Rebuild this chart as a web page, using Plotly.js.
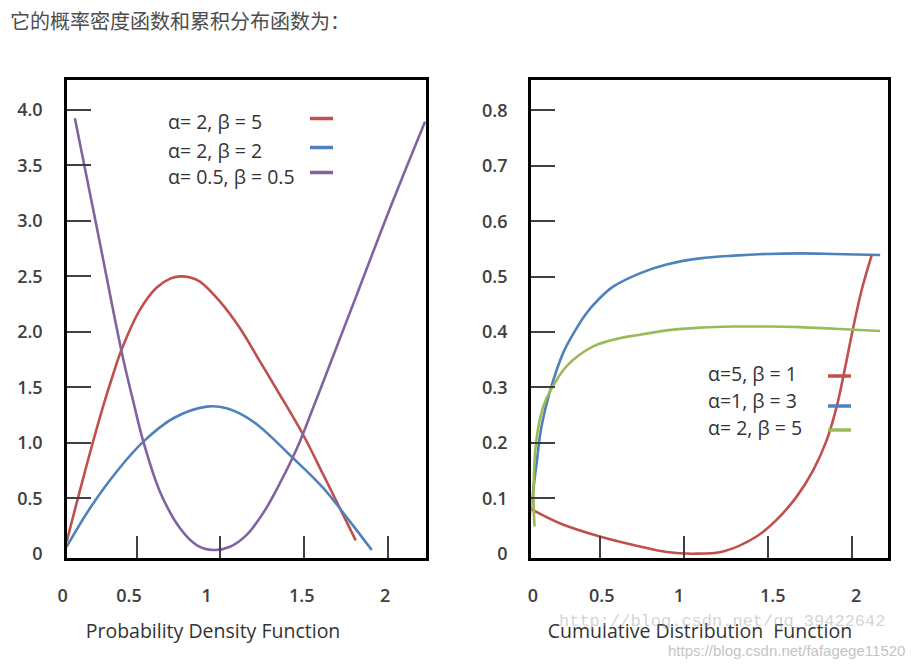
<!DOCTYPE html>
<html><head><meta charset="utf-8">
<script src="https://cdn.plot.ly/plotly-3.0.1.min.js"></script>
<style>html,body{margin:0;padding:0;background:#fff}#chart{width:917px;height:666px}</style>
</head><body><div id="chart"></div>
<script>
// ---------- data ----------
const headerText = "它的概率密度函数和累积分布函数为：";
const pdfTitle = "Probability Density Function";
const cdfTitle = "Cumulative Distribution  Function";

const pdfNames = ["α= 2, β = 5", "α= 2, β = 2", "α= 0.5, β = 0.5"];
const pdfRedX = [0.082, 0.141, 0.221, 0.300, 0.360, 0.410, 0.520, 0.620, 0.700, 0.759, 0.820, 0.878, 0.998, 1.117, 1.237, 1.356, 1.495, 1.615, 1.714, 1.808];
const pdfRedY = [0.108, 0.454, 0.908, 1.330, 1.620, 1.840, 2.200, 2.400, 2.480, 2.500, 2.490, 2.453, 2.272, 2.032, 1.731, 1.431, 1.070, 0.710, 0.409, 0.120];
const pdfBlueX = [0.082, 0.221, 0.380, 0.540, 0.719, 0.918, 1.037, 1.197, 1.435, 1.615, 1.774, 1.904];
const pdfBlueY = [0.063, 0.409, 0.739, 1.010, 1.221, 1.326, 1.311, 1.190, 0.860, 0.590, 0.289, 0.033];
const pdfPurpleX = [0.131, 0.271, 0.410, 0.480, 0.540, 0.639, 0.759, 0.858, 0.958, 1.057, 1.157, 1.257, 1.357, 1.457, 1.555, 1.655, 1.814, 2.013, 2.222];
const pdfPurpleY = [3.926, 2.874, 1.821, 1.371, 1.010, 0.559, 0.229, 0.078, 0.033, 0.063, 0.170, 0.370, 0.640, 0.950, 1.320, 1.710, 2.333, 3.115, 3.895];

const cdfNames = ["α=5, β = 1", "α=1, β = 3", "α= 2, β = 5"];
const cdfRedX = [0.064, 0.262, 0.501, 0.739, 0.898, 1.057, 1.235, 1.434, 1.553, 1.673, 1.772, 1.852, 1.911, 1.951, 2.007, 2.060, 2.120];
const cdfRedY = [0.085, 0.055, 0.031, 0.013, 0.003, 0.000, 0.004, 0.031, 0.061, 0.103, 0.151, 0.205, 0.265, 0.320, 0.404, 0.476, 0.539];
const cdfBlueX = [0.079, 0.103, 0.123, 0.153, 0.203, 0.282, 0.345, 0.421, 0.500, 0.580, 0.739, 0.898, 1.097, 1.300, 1.494, 1.700, 1.891, 2.170];
const cdfBlueY = [0.055, 0.112, 0.160, 0.229, 0.292, 0.362, 0.398, 0.434, 0.461, 0.482, 0.506, 0.522, 0.533, 0.538, 0.541, 0.542, 0.541, 0.539];
const cdfGreenX = [0.112, 0.106, 0.123, 0.163, 0.203, 0.302, 0.461, 0.620, 0.739, 0.898, 1.100, 1.295, 1.500, 1.692, 1.900, 2.170];
const cdfGreenY = [0.049, 0.115, 0.205, 0.265, 0.292, 0.338, 0.374, 0.389, 0.395, 0.403, 0.408, 0.410, 0.410, 0.409, 0.406, 0.402];

const xTickText = ["0", "0.5", "1", "1.5", "2"];
const xLabelPosPdf = [0.058, 0.454, 0.918, 1.486, 1.983];
const xLabelPosCdf = [0.101, 0.511, 0.971, 1.530, 2.027];
const xTickMarks = [0.5, 1, 1.5, 2];
const yTickMarksPdf = [0.5, 1, 1.5, 2, 2.5, 3, 3.5, 4];
const yLabelValsPdf = [0, 0.5, 1, 1.5, 2, 2.5, 3, 3.5, 4];
const yTickTextPdf = ["0", "0.5", "1.0", "1.5", "2.0", "2.5", "3.0", "3.5", "4.0"];
const yTickMarksCdf = [0.1, 0.2, 0.3, 0.4, 0.5, 0.6, 0.7, 0.8];
const yLabelValsCdf = [0, 0.1, 0.2, 0.3, 0.4, 0.5, 0.6, 0.7, 0.8];
const yTickTextCdf = ["0", "0.1", "0.2", "0.3", "0.4", "0.5", "0.6", "0.7", "0.8"];

const watermark1 = "http://blog.csdn.net/qq_39422642";
const watermark2 = "https://blog.csdn.net/fafagege11520";

// ---------- styles ----------
const RED = "#c0504d", BLUE = "#4f81bd", PURPLE = "#8064a2", GREEN = "#9bbb59";
const pdfColors = [RED, BLUE, PURPLE];
const cdfColors = [RED, BLUE, GREEN];
const tickFont = {family: "Open Sans, sans-serif", size: 18, color: "#404040", weight: 600};
const titleFont = {family: "Open Sans, sans-serif", size: 19.5, color: "#333333"};
const legFont = {family: "Open Sans, sans-serif", size: 19.5, color: "#333333"};

function line(x, y, color, xa, ya) {
  return {type: "scatter", mode: "lines", x: x, y: y, xaxis: xa, yaxis: ya,
    line: {color: color, width: 2.6, shape: "spline", smoothing: 1.0},
    showlegend: false, hoverinfo: "skip"};
}
function holder(xa, ya) {
  return {type: "scatter", mode: "lines", x: [null], y: [null], xaxis: xa, yaxis: ya,
    showlegend: false, hoverinfo: "skip"};
}

const traces = [
  line(pdfRedX, pdfRedY, pdfColors[0], "x", "y"),
  line(pdfBlueX, pdfBlueY, pdfColors[1], "x", "y"),
  line(pdfPurpleX, pdfPurpleY, pdfColors[2], "x", "y"),
  line(cdfRedX, cdfRedY, cdfColors[0], "x2", "y2"),
  line(cdfBlueX, cdfBlueY, cdfColors[1], "x2", "y2"),
  line(cdfGreenX, cdfGreenY, cdfColors[2], "x2", "y2"),
  holder("x3", "y"), holder("x", "y3"), holder("x4", "y2"), holder("x2", "y4")
];

const yDom = [0.1622, 0.8799];
function boxAxis(extra) {
  return Object.assign({showline: true, mirror: true, linewidth: 3, linecolor: "#000",
    showgrid: false, zeroline: false, ticks: "inside", tickwidth: 2, tickcolor: "#404040",
    tickmode: "array", showticklabels: false, automargin: false, fixedrange: true}, extra);
}
function labelAxis(extra) {
  return Object.assign({showline: false, showgrid: false, zeroline: false, ticks: "",
    tickmode: "array", showticklabels: true, tickfont: tickFont, automargin: false, fixedrange: true}, extra);
}

const layout = {
  width: 917, height: 666,
  margin: {l: 0, r: 0, t: 0, b: 0},
  paper_bgcolor: "#fff", plot_bgcolor: "rgba(0,0,0,0)",
  showlegend: false,
  title: {text: headerText, x: 10/917, xanchor: "left", xref: "paper", y: 1 - 22/666, yanchor: "middle", yref: "paper",
    font: {family: "Noto Sans CJK SC, sans-serif", size: 20, color: "#4d4d4d"}},
  // left panel
  xaxis: boxAxis({domain: [0.0727, 0.4646], range: [0.082, 2.228], anchor: "y", tickvals: xTickMarks, ticklen: 22}),
  yaxis: boxAxis({domain: yDom, range: [-0.0388, 4.271], anchor: "x", tickvals: yTickMarksPdf, ticklen: 24}),
  xaxis3: labelAxis({domain: [0, 0.4646], range: [-0.3166, 2.228], anchor: "y", tickvals: xLabelPosPdf, ticktext: xTickText,
    ticklabelstandoff: 25, title: {text: pdfTitle, font: titleFont, standoff: 18}}),
  yaxis3: labelAxis({overlaying: "y", range: [-0.0388, 4.271], anchor: "x", side: "left", tickvals: yLabelValsPdf, ticktext: yTickTextPdf,
    ticklabelstandoff: 23}),
  // right panel
  xaxis2: boxAxis({domain: [0.5796, 0.9684], range: [0.094, 2.217], anchor: "y2", tickvals: xTickMarks, ticklen: 22}),
  yaxis2: boxAxis({domain: yDom, range: [-0.00776, 0.855], anchor: "x2", tickvals: yTickMarksCdf, ticklen: 24}),
  xaxis4: labelAxis({domain: [0.5583, 0.9684], range: [-0.0238, 2.217], anchor: "y2", tickvals: xLabelPosCdf, ticktext: xTickText,
    ticklabelstandoff: 25, title: {text: cdfTitle, font: titleFont, standoff: 18}}),
  yaxis4: labelAxis({overlaying: "y2", range: [-0.00776, 0.855], anchor: "x2", side: "left", tickvals: yLabelValsCdf, ticktext: yTickTextCdf,
    ticklabelstandoff: 23}),
  shapes: [], annotations: []
};

// custom legends: text then line sample
const pdfLegTextY = [122, 150, 176], pdfLegLineY = [118.5, 147.5, 172.5];
const cdfLegTextY = [373, 400, 427], cdfLegLineY = [376, 406, 430];
pdfNames.forEach((n, i) => {
  layout.annotations.push({text: n, xref: "paper", yref: "paper", x: 166/917, y: 1 - pdfLegTextY[i]/666,
    xanchor: "left", yanchor: "middle", showarrow: false, font: legFont});
  layout.shapes.push({type: "line", xref: "paper", yref: "paper", x0: 310/917, x1: 333/917,
    y0: 1 - pdfLegLineY[i]/666, y1: 1 - pdfLegLineY[i]/666, line: {color: pdfColors[i], width: 3.5}});
});
cdfNames.forEach((n, i) => {
  layout.annotations.push({text: n, xref: "paper", yref: "paper", x: 706/917, y: 1 - cdfLegTextY[i]/666,
    xanchor: "left", yanchor: "middle", showarrow: false, font: legFont});
  layout.shapes.push({type: "line", xref: "paper", yref: "paper", x0: 828/917, x1: 851/917,
    y0: 1 - cdfLegLineY[i]/666, y1: 1 - cdfLegLineY[i]/666, line: {color: cdfColors[i], width: 3.5}});
});
// watermarks
layout.annotations.push({text: watermark1, xref: "paper", yref: "paper", x: 557/917, y: 1 - 621/666,
  xanchor: "left", yanchor: "middle", showarrow: false,
  font: {family: "Liberation Mono, monospace", size: 17, color: "rgba(170,170,170,0.5)"}});
layout.annotations.push({text: watermark2, xref: "paper", yref: "paper", x: 907/917, y: 1 - 650/666,
  xanchor: "right", yanchor: "middle", showarrow: false,
  font: {family: "Liberation Sans, Arial, sans-serif", size: 15, color: "#c4c4c4"}});

Plotly.newPlot("chart", traces, layout, {staticPlot: true, displayModeBar: false});
</script></body></html>
